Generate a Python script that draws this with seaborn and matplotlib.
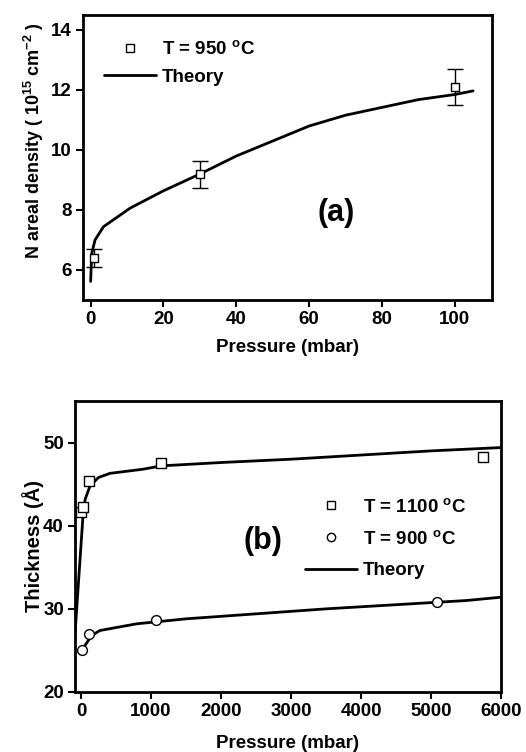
import numpy as np
import pandas as pd
import matplotlib
matplotlib.use("Agg")
import matplotlib.pyplot as plt
import seaborn as sns
from matplotlib.lines import Line2D

# ---------------- data: panel (a) ----------------
a_pressure = [1, 30, 100]
a_density = [6.4, 9.2, 12.1]
a_err = [0.3, 0.45, 0.6]
a_theory_x = [0.0, 0.3, 1.2, 3.5, 10.8, 20, 30, 40, 50, 60, 70, 80, 90, 100, 105]
a_theory_y = [5.62, 6.55, 7.0, 7.44, 8.06, 8.64, 9.2, 9.8, 10.3, 10.8, 11.16, 11.42, 11.68, 11.85, 11.97]

# ---------------- data: panel (b) ----------------
b1100_x = [0, 33, 119, 1147, 5748]
b1100_y = [41.6, 42.3, 45.4, 47.6, 48.3]
b900_x = [10, 119, 1067, 5081]
b900_y = [25.0, 27.0, 28.7, 30.8]
b1100_theory_x = [-110, 33, 60, 129, 250, 414, 890, 1147, 2000, 3000, 4000, 5000, 6000]
b1100_theory_y = [24.0, 41.8, 43.2, 44.8, 45.8, 46.3, 46.8, 47.2, 47.6, 48.0, 48.5, 49.0, 49.4]
b900_theory_x = [10, 57, 153, 271, 795, 1500, 2500, 3500, 4500, 5500, 6000]
b900_theory_y = [24.8, 25.6, 26.8, 27.4, 28.2, 28.8, 29.4, 30.0, 30.5, 31.0, 31.4]

sns.set_theme(style="ticks")
plt.rcParams["font.family"] = ["Liberation Sans", "DejaVu Sans"]
plt.rcParams["font.weight"] = "bold"
plt.rcParams["axes.labelweight"] = "bold"
plt.rcParams["text.color"] = "black"
plt.rcParams["axes.labelcolor"] = "black"
plt.rcParams["xtick.color"] = "black"
plt.rcParams["ytick.color"] = "black"
plt.rcParams["mathtext.fontset"] = "custom"
plt.rcParams["mathtext.rm"] = "Liberation Sans:bold"
plt.rcParams["mathtext.bf"] = "Liberation Sans:bold"
plt.rcParams["mathtext.default"] = "bf"

fig = plt.figure(figsize=(5.26, 7.52), dpi=100)
ax1 = fig.add_axes([83 / 526, 1 - 300 / 752, 409 / 526, 285 / 752])
ax2 = fig.add_axes([75 / 526, 1 - 692 / 752, 426 / 526, 291 / 752])

tick_fs = 13.5
lab_fs = 13.5
leg_fs = 13.5

def style(ax):
    for s in ax.spines.values():
        s.set_linewidth(2.0)
        s.set_color("black")
        s.set_visible(True)
    ax.tick_params(direction="out", length=5, width=1.5, colors="black",
                   labelsize=tick_fs, pad=3)
    for lab in ax.get_xticklabels() + ax.get_yticklabels():
        lab.set_fontweight("bold")
        lab.set_color("black")

# ---- panel (a) ----
df_at = pd.DataFrame({"x": a_theory_x, "y": a_theory_y})
sns.lineplot(data=df_at, x="x", y="y", ax=ax1, color="black", lw=2.0,
             sort=False, estimator=None)
ax1.errorbar(a_pressure, a_density, yerr=a_err, fmt="none", ecolor="black",
             elinewidth=1.0, capsize=6, capthick=1.0)
df_a = pd.DataFrame({"x": a_pressure, "y": a_density})
sns.scatterplot(data=df_a, x="x", y="y", ax=ax1, marker="s", s=38,
                facecolor="white", edgecolor="black", linewidth=1.0, zorder=5)
ax1.set_xlim(-2.1, 110.2)
ax1.set_ylim(5.0, 14.5)
ax1.set_xticks([0, 20, 40, 60, 80, 100])
ax1.set_yticks([6, 8, 10, 12, 14])
ax1.set_xlabel("Pressure (mbar)", fontsize=lab_fs, fontweight="bold", labelpad=8)
ax1.set_ylabel(r"N areal density ( 10$^{15}$ cm$^{-2}$ )", fontsize=13,
               fontweight="bold", labelpad=6)
ax1.yaxis.set_label_coords(-0.091, 0.56)
style(ax1)
h1 = [Line2D([], [], marker="s", ls="none", mfc="white", mec="black", ms=6, mew=1.0),
      Line2D([], [], color="black", lw=2.0)]
ax1.legend(h1, [r"T = 950 $^{o}$C", "Theory"], loc="upper left",
           bbox_to_anchor=(0.01, 0.97), frameon=False,
           handlelength=2.8, handletextpad=0.3, labelspacing=0.55,
           prop={"weight": "bold", "size": leg_fs})
ax1.text(0.62, 0.305, "(a)", transform=ax1.transAxes, fontsize=22,
         fontweight="bold", ha="center", va="center")

# ---- panel (b) ----
df_b1t = pd.DataFrame({"x": b1100_theory_x, "y": b1100_theory_y})
df_b9t = pd.DataFrame({"x": b900_theory_x, "y": b900_theory_y})
sns.lineplot(data=df_b1t, x="x", y="y", ax=ax2, color="black", lw=2.0,
             sort=False, estimator=None)
sns.lineplot(data=df_b9t, x="x", y="y", ax=ax2, color="black", lw=2.0,
             sort=False, estimator=None)
df_b1 = pd.DataFrame({"x": b1100_x, "y": b1100_y})
df_b9 = pd.DataFrame({"x": b900_x, "y": b900_y})
sns.scatterplot(data=df_b1, x="x", y="y", ax=ax2, marker="s", s=50,
                facecolor="white", edgecolor="black", linewidth=1.0, zorder=5)
sns.scatterplot(data=df_b9, x="x", y="y", ax=ax2, marker="o", s=50,
                facecolor="white", edgecolor="black", linewidth=1.0, zorder=5)
ax2.set_xlim(-86, 6000)
ax2.set_ylim(20, 55)
ax2.set_xticks([0, 1000, 2000, 3000, 4000, 5000, 6000])
ax2.set_yticks([20, 30, 40, 50])
ax2.set_xlabel("Pressure (mbar)", fontsize=lab_fs, fontweight="bold", labelpad=11)
ax2.set_ylabel("Thickness (Å)", fontsize=14.5, fontweight="bold", labelpad=6)
ax2.yaxis.set_label_coords(-0.072, 0.5)
style(ax2)
h2 = [Line2D([], [], marker="s", ls="none", mfc="white", mec="black", ms=6, mew=1.0),
      Line2D([], [], marker="o", ls="none", mfc="white", mec="black", ms=6, mew=1.0),
      Line2D([], [], color="black", lw=2.0)]
ax2.legend(h2, [r"T = 1100 $^{o}$C", r"T = 900 $^{o}$C", "Theory"], loc="upper left",
           bbox_to_anchor=(0.5, 0.725), frameon=False,
           handlelength=2.8, handletextpad=0.3, labelspacing=0.75,
           prop={"weight": "bold", "size": leg_fs})
ax2.text(0.44, 0.52, "(b)", transform=ax2.transAxes, fontsize=22,
         fontweight="bold", ha="center", va="center")

fig.savefig("out.png", dpi=100)
